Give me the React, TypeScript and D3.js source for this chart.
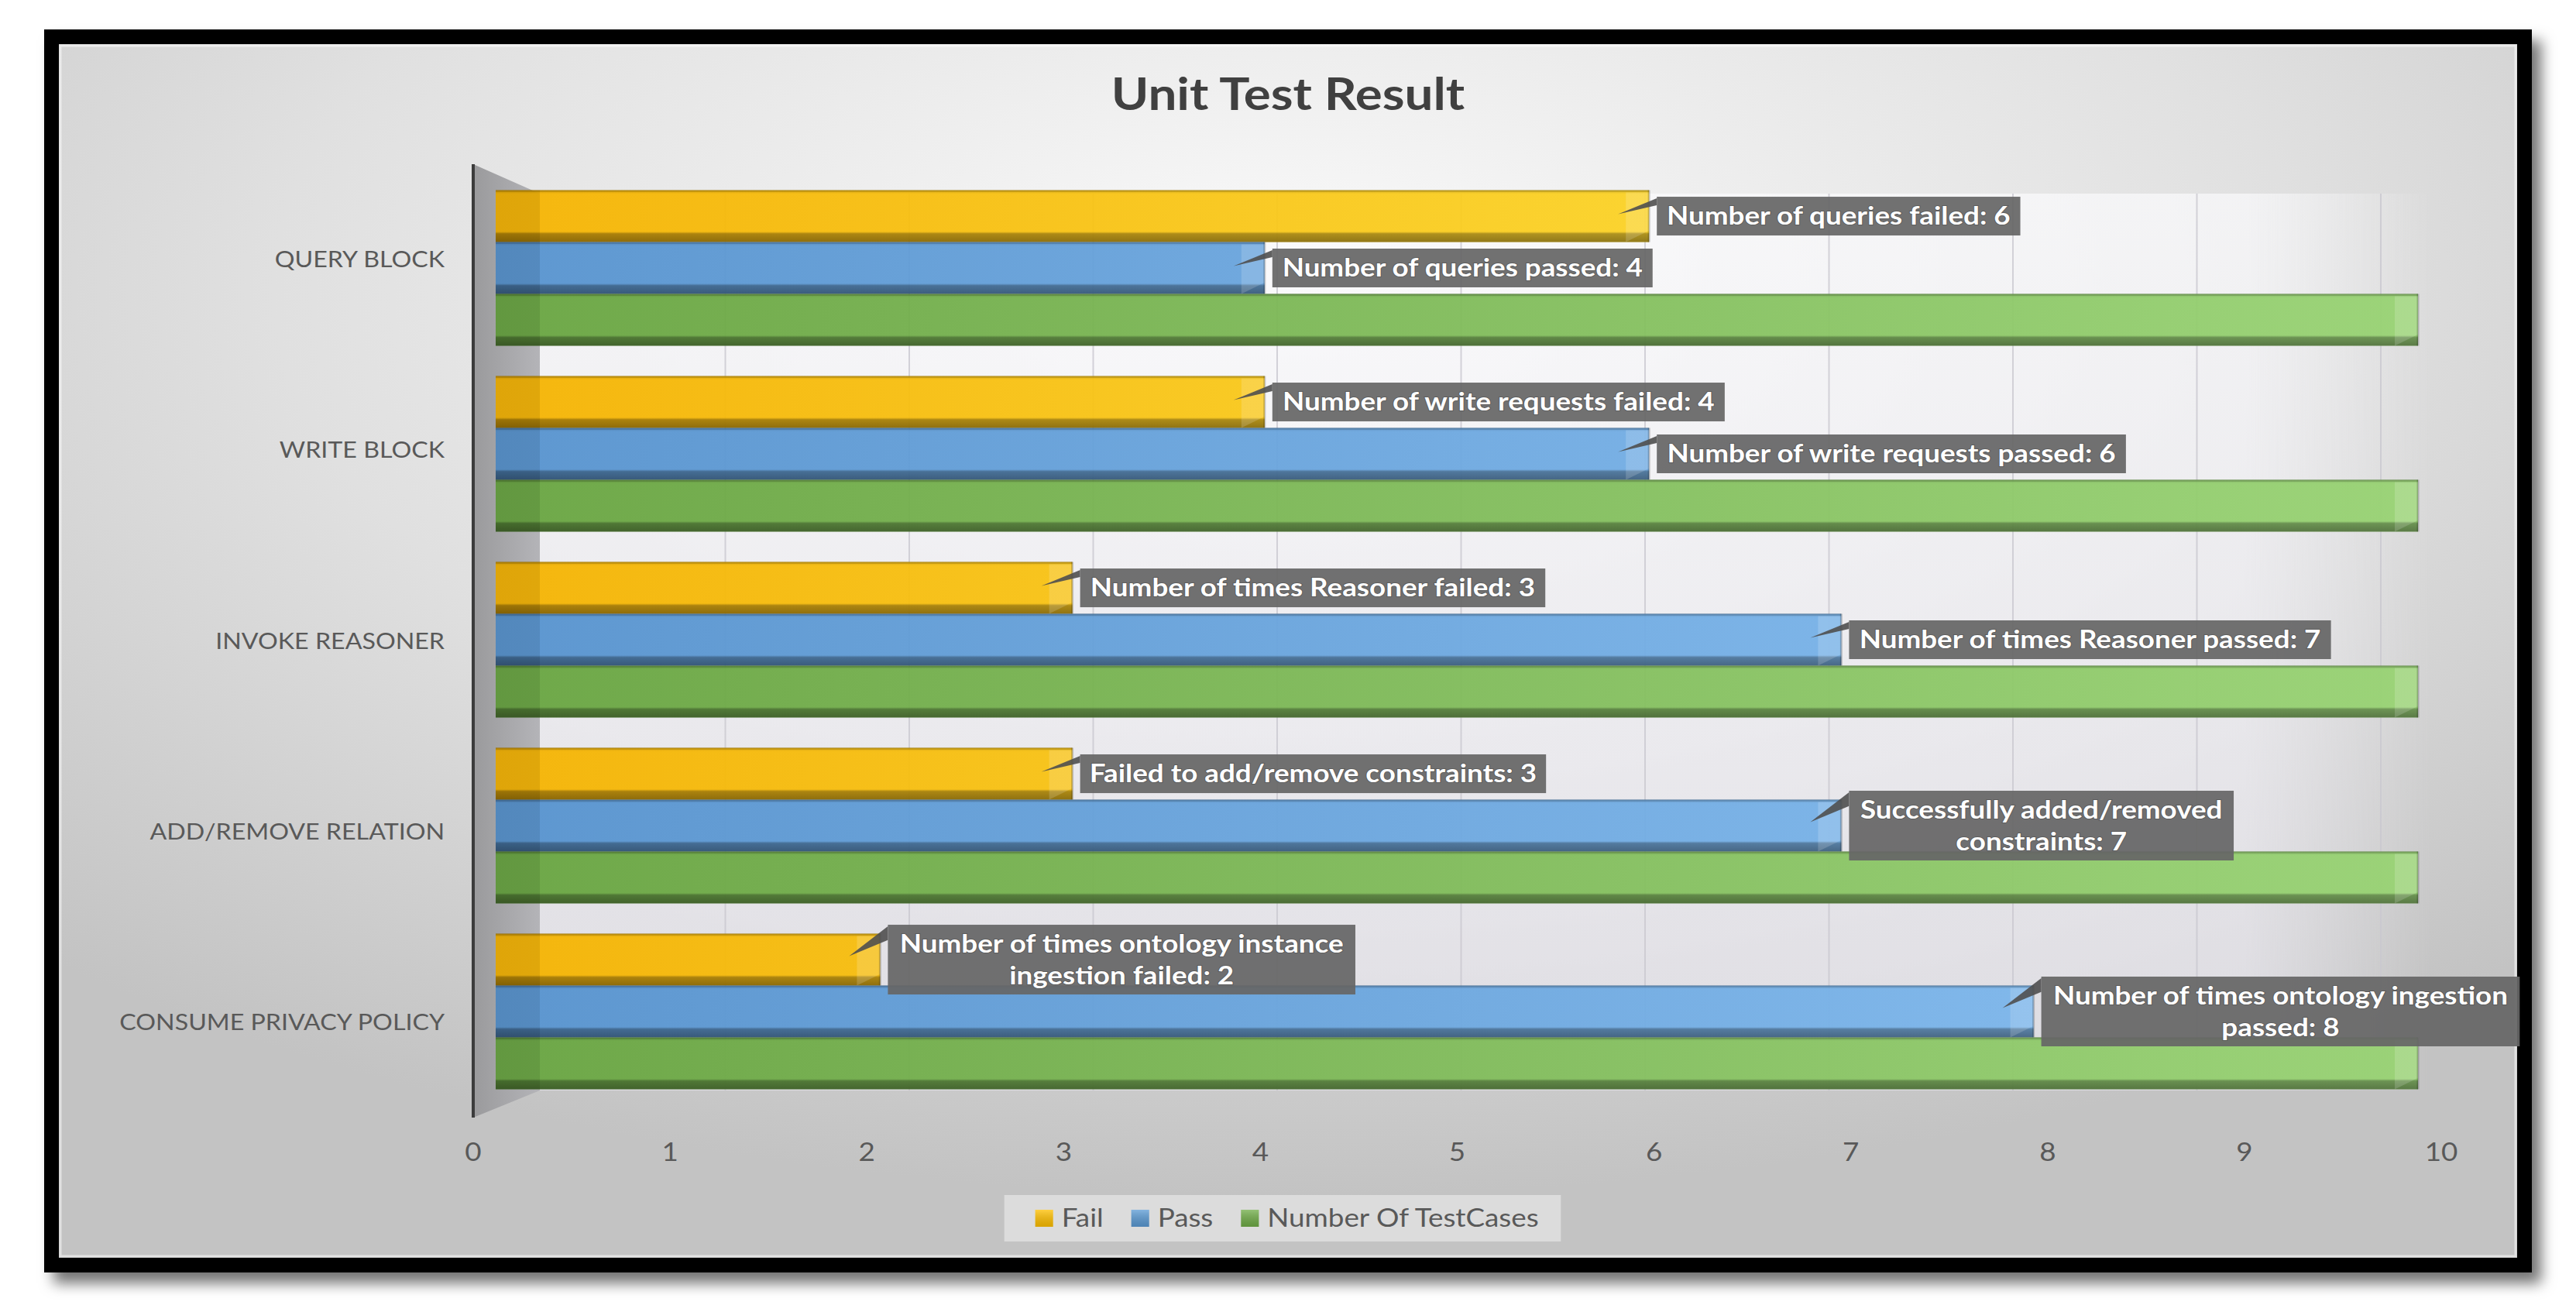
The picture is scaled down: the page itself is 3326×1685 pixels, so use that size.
import React from 'react';
import * as d3 from 'd3';

const categories = ['QUERY BLOCK', 'WRITE BLOCK', 'INVOKE REASONER', 'ADD/REMOVE RELATION', 'CONSUME PRIVACY POLICY'];
const seriesNames = ['Fail', 'Pass', 'Number Of TestCases'];
const failValues = [6, 4, 3, 3, 2];
const passValues = [4, 6, 7, 7, 8];
const totalValues = [10, 10, 10, 10, 10];
const failLabels = [
  'Number of queries failed: 6',
  'Number of write requests failed: 4',
  'Number of times Reasoner failed: 3',
  'Failed to add/remove constraints: 3',
  'Number of times ontology instance\ningestion failed: 2',
];
const passLabels = [
  'Number of queries passed: 4',
  'Number of write requests passed: 6',
  'Number of times Reasoner passed: 7',
  'Successfully added/removed\nconstraints: 7',
  'Number of times ontology ingestion\npassed: 8',
];
const xTickValues = [0, 1, 2, 3, 4, 5, 6, 7, 8, 9, 10];
const chartTitle = 'Unit Test Result';

const W = 3326;
const H = 1685;
const SX = 1.15;
const FONT = "Lato, 'Open Sans', sans-serif";
const TEXT_GRAY = '#595959';

let _ctx: CanvasRenderingContext2D | null = null;
function textWidth(t: string, font: string): number {
  if (!_ctx) _ctx = document.createElement('canvas').getContext('2d');
  if (!_ctx) return t.length * 18;
  _ctx.font = font;
  return _ctx.measureText(t).width * SX;
}

const palettes = [
  { id: 'fail', c0: '#f5b300', c1: '#ffe63c', swatch: '#ffc000' },
  { id: 'pass', c0: '#5592ce', c1: '#84bef2', swatch: '#5b9bd5' },
  { id: 'total', c0: '#67a43f', c1: '#98d373', swatch: '#70ad47' },
];

export default function App() {
  const frame = { x: 57, y: 38, w: 3212, h: 1605, t: 19 };
  const inner = { x: frame.x + frame.t, y: frame.y + frame.t, w: frame.w - 2 * frame.t, h: frame.h - 2 * frame.t };

  const xTick = d3.scaleLinear().domain([0, 10]).range([611, 3152]);
  const xBar = d3.scaleLinear().domain([0, 10]).range([640, 3122]);
  const xBack = d3.scaleLinear().domain([0, 10]).range([699, 3074]);
  const yGroup = d3.scaleBand<string>().domain(categories).range([226, 1426]).paddingInner(0.163).paddingOuter(0.0815);
  const ySeries = d3.scaleBand<string>().domain(seriesNames).range([0, yGroup.bandwidth()]);
  const yLabel = d3.scalePoint<string>().domain(categories).range([335, 1320]);

  const seriesValues = [failValues, passValues, totalValues];
  const seriesLabels: (string[] | null)[] = [failLabels, passLabels, null];

  const wallTop = 212;
  const wallBottom = 1443;
  const backTop = 250;
  const backBottom = 1408;
  const backLeft = 697;

  const labelFont = `bold 32px ${FONT}`;
  const legendFont = `32px ${FONT}`;

  const bars: React.ReactNode[] = [];
  const callouts: React.ReactNode[] = [];

  categories.forEach((cat, ci) => {
    seriesNames.forEach((sn, si) => {
      const v = seriesValues[si][ci];
      const y = (yGroup(cat) as number) + (ySeries(sn) as number);
      const h = ySeries.bandwidth();
      const x0 = xBar(0);
      const x1 = xBar(v);
      const pal = palettes[si];
      const cap = 30;
      bars.push(
        <g key={`bar-${ci}-${si}`}>
          <rect x={x0} y={y} width={x1 - x0} height={h} fill={`url(#grad-${pal.id})`} fillOpacity={0.94} />
          <rect x={x0} y={y} width={x1 - x0} height={h} fill="url(#shade-v)" />
          <rect x={x0} y={y} width={backLeft - x0} height={h} fill="#000" opacity={0.07} />
          <polygon
            points={`${x1 - cap},${y + 3} ${x1},${y + 3} ${x1},${y + h * 0.78} ${x1 - cap},${y + h}`}
            fill="#fff"
            opacity={0.16}
          />
          <line x1={x1} y1={y} x2={x1} y2={y + h} stroke="#000" strokeOpacity={0.2} strokeWidth={3} />
          <line x1={x0} y1={y + 1} x2={x1} y2={y + 1} stroke="#000" strokeOpacity={0.12} strokeWidth={3} />
        </g>
      );

      const labs = seriesLabels[si];
      if (labs) {
        const lines = labs[ci].split('\n');
        const lw = Math.max(...lines.map((l) => textWidth(l, labelFont)));
        const pad = lines.length > 1 ? 14 : 12;
        const bw = lw + 2 * pad;
        const bh = lines.length > 1 ? 90 : 50;
        const bx = x1 + 10;
        const by = y + h / 2 - bh / 2;
        const lineH = 41;
        callouts.push(
          <g key={`call-${ci}-${si}`}>
            <polygon
              points={`${bx},${by + 2} ${bx},${by + bh * 0.22} ${bx - 50},${by + bh * 0.45}`}
              fill="#4f4f4f"
              opacity={0.9}
            />
            <rect x={bx} y={by} width={bw} height={bh} fill="#666" fillOpacity={0.93} />
            {lines.map((l, li) => {
              const cy = by + bh / 2 + (li - (lines.length - 1) / 2) * lineH;
              return (
                <text
                  key={li}
                  transform={`translate(${bx + bw / 2},${cy + 11}) scale(${SX},1)`}
                  textAnchor="middle"
                  fontFamily={FONT}
                  fontWeight="bold"
                  fontSize={32}
                  fill="#fff"
                  style={{ paintOrder: 'stroke' }}
                  stroke="#3a3a3a"
                  strokeOpacity={0.35}
                  strokeWidth={2}
                >
                  {l}
                </text>
              );
            })}
          </g>
        );
      }
    });
  });

  // legend layout
  const sw = 23;
  const swGap = 11;
  const itemGap = 36;
  const itemWidths = seriesNames.map((n) => sw + swGap + textWidth(n, legendFont));
  const legendTotal = d3.sum(itemWidths) + itemGap * (seriesNames.length - 1);
  const legendCx = inner.x + inner.w / 2;
  const legendStart = legendCx - legendTotal / 2;
  const legendY = 1573;
  let acc = legendStart;
  const legendItems = seriesNames.map((n, i) => {
    const x = acc;
    acc += itemWidths[i] + itemGap;
    return { n, x, pal: palettes[i] };
  });

  return (
    <svg
      width={W}
      height={H}
      viewBox={`0 0 ${W} ${H}`}
      style={{ position: 'absolute', left: 0, top: 0, display: 'block', background: '#fff' }}
    >
      <defs>
        <filter id="frameShadow" x="-5%" y="-5%" width="110%" height="112%">
          <feDropShadow dx="12" dy="14" stdDeviation="9" floodColor="#000" floodOpacity="0.55" />
        </filter>
        <radialGradient id="panelGrad" cx="0.5" cy="0.2" r="0.75">
          <stop offset="0" stopColor="#fafafa" />
          <stop offset="0.55" stopColor="#e0e0e0" />
          <stop offset="1" stopColor="#c3c3c3" />
        </radialGradient>
        <linearGradient id="backWall" x1="0" y1="0" x2="0" y2="1">
          <stop offset="0" stopColor="#fafafc" stopOpacity="0.7" />
          <stop offset="1" stopColor="#e6e4ec" stopOpacity="0.7" />
        </linearGradient>
        <linearGradient id="backWallFade" x1="0" y1="0" x2="1" y2="0">
          <stop offset="0" stopColor="#fff" stopOpacity="1" />
          <stop offset="0.9" stopColor="#fff" stopOpacity="1" />
          <stop offset="1" stopColor="#fff" stopOpacity="0" />
        </linearGradient>
        <mask id="backMask">
          <rect x={backLeft} y={backTop} width={xBar(10) + 20 - backLeft} height={backBottom - backTop} fill="url(#backWallFade)" />
        </mask>
        <linearGradient id="wallGrad" x1="0" y1="0" x2="1" y2="0">
          <stop offset="0" stopColor="#9a9a9c" />
          <stop offset="1" stopColor="#b4b4b8" />
        </linearGradient>
        {palettes.map((p) => (
          <linearGradient
            key={p.id}
            id={`grad-${p.id}`}
            gradientUnits="userSpaceOnUse"
            x1={xBar(0)}
            y1={0}
            x2={xBar(10)}
            y2={0}
          >
            <stop offset="0" stopColor={p.c0} />
            <stop offset="1" stopColor={p.c1} />
          </linearGradient>
        ))}
        <linearGradient id="shade-v" x1="0" y1="0" x2="0" y2="1">
          <stop offset="0" stopColor="#000" stopOpacity="0.14" />
          <stop offset="0.07" stopColor="#000" stopOpacity="0" />
          <stop offset="0.8" stopColor="#000" stopOpacity="0" />
          <stop offset="0.84" stopColor="#000" stopOpacity="0.3" />
          <stop offset="1" stopColor="#000" stopOpacity="0.42" />
        </linearGradient>
        <linearGradient id="swatchShade" x1="0" y1="0" x2="0" y2="1">
          <stop offset="0" stopColor="#fff" stopOpacity="0.25" />
          <stop offset="1" stopColor="#000" stopOpacity="0.15" />
        </linearGradient>
      </defs>

      {/* frame */}
      <rect x={frame.x} y={frame.y} width={frame.w} height={frame.h} fill="#000" filter="url(#frameShadow)" />
      <rect x={inner.x} y={inner.y} width={inner.w} height={inner.h} fill="url(#panelGrad)" />
      <rect x={inner.x + 2} y={inner.y + 2} width={inner.w - 4} height={inner.h - 4} fill="none" stroke="#fff" strokeOpacity={0.5} strokeWidth={3} />

      {/* title */}
      <text
        transform={`translate(${1663},${142}) scale(${SX},1)`}
        textAnchor="middle"
        fontFamily={FONT}
        fontWeight="bold"
        fontSize={57}
        fill="#404040"
      >
        {chartTitle}
      </text>

      {/* back wall */}
      <rect
        x={backLeft}
        y={backTop}
        width={xBar(10) + 20 - backLeft}
        height={backBottom - backTop}
        fill="url(#backWall)"
        mask="url(#backMask)"
      />
      {xTickValues.slice(1).map((t) => (
        <line key={`g-${t}`} x1={xBack(t)} y1={backTop} x2={xBack(t)} y2={backBottom} stroke="#c9c8d0" strokeWidth={2} strokeOpacity={0.8} />
      ))}

      {/* left wall */}
      <polygon
        points={`${xTick(0)},${wallTop} ${backLeft},${backTop} ${backLeft},${backBottom} ${xTick(0)},${wallBottom}`}
        fill="url(#wallGrad)"
      />
      <line x1={xTick(0)} y1={wallTop} x2={xTick(0)} y2={wallBottom} stroke="#3c3c3c" strokeWidth={4} />

      {bars}
      {callouts}

      {/* x tick labels */}
      {xTickValues.map((t) => (
        <text
          key={`t-${t}`}
          transform={`translate(${xTick(t)},${1499}) scale(${SX},1)`}
          textAnchor="middle"
          fontFamily={FONT}
          fontSize={32}
          fill={TEXT_GRAY}
        >
          {t}
        </text>
      ))}

      {/* category labels */}
      {categories.map((c) => (
        <text
          key={`c-${c}`}
          transform={`translate(${574},${(yLabel(c) as number) + 10}) scale(${SX},1)`}
          textAnchor="end"
          fontFamily={FONT}
          fontSize={28}
          fill={TEXT_GRAY}
        >
          {c}
        </text>
      ))}

      {/* legend */}
      <rect
        x={legendStart - 40}
        y={legendY - 30}
        width={legendTotal + 66}
        height={60}
        fill="#ececec"
        fillOpacity={0.6}
      />
      {legendItems.map((it) => (
        <g key={`l-${it.n}`}>
          <rect x={it.x} y={legendY - 11} width={sw} height={22} fill={it.pal.swatch} />
          <rect x={it.x} y={legendY - 11} width={sw} height={22} fill="url(#swatchShade)" />
          <text
            transform={`translate(${it.x + sw + swGap},${legendY + 11}) scale(${SX},1)`}
            fontFamily={FONT}
            fontSize={32}
            fill={TEXT_GRAY}
          >
            {it.n}
          </text>
        </g>
      ))}
    </svg>
  );
}
